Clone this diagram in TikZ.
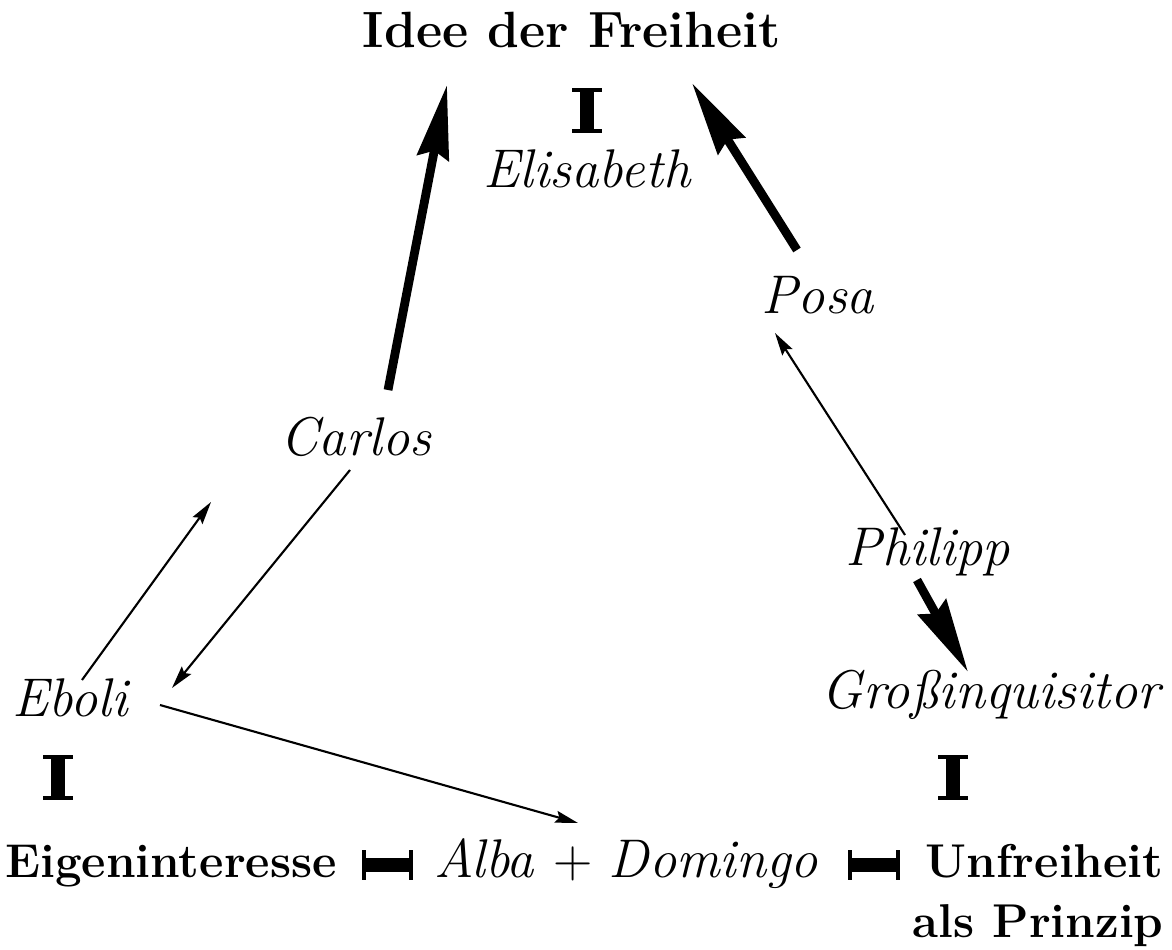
\documentclass[tikz,border=0pt]{standalone}
\usetikzlibrary{arrows.meta}

\begin{document}
\begin{tikzpicture}[
      bf/.style={font=\fontsize{13.5}{16}\selectfont\bfseries},
      it/.style={font=\fontsize{15.5}{18}\selectfont\itshape},
      fat/.style={line width=2.5pt,-{Stealth[length=21pt,width=9pt,inset=2pt]}},
      thin/.style={line width=0.6pt,-{Stealth[length=6.5pt,width=3.4pt,inset=1pt]}},
      gegen/.style={line width=4.2pt,{Bar[width=8.5pt,line width=1pt]}-{Bar[width=8.5pt,line width=1pt]}}
   ]
   \useasboundingbox (0,0) rectangle (11.72,9.49);

   % Knoten
   \node[bf,font=\fontsize{14.5}{17}\selectfont\bfseries] (idee) at (5.72,9.19) {Idee der Freiheit};
   \node[it,anchor=base] (elis) at (5.87,7.61) {Elisabeth};
   \node[it] (posa) at (8.18,6.54) {Posa};
   \node[it] (carlos) at (3.56,5.12) {Carlos};
   \node[it,anchor=base] (philipp) at (9.28,3.84) {Philipp};
   \node[it] (eboli) at (0.70,2.51) {Eboli};
   \node[it,anchor=base] (gross) at (9.91,2.41) {Gro\ss inquisitor};
   \node[bf,anchor=base] (eigen) at (1.71,0.72) {Eigeninteresse};
   \node[it,anchor=base] (alba) at (6.26,0.72) {Alba \upshape + \itshape Domingo};
   \node[bf,anchor=base east] (unfrei) at (11.76,0.72) {Unfreiheit};
   \node[bf,anchor=base east] (prinzip) at (11.76,0.12) {als Prinzip};

   % Pfeile
   \draw[fat] ([shift={(0.32,0.47)}]carlos.center) -- ([shift={(-1.25,-0.55)}]idee.center);
   \draw[fat] ([shift={(-0.21,0.45)}]posa.center) -- ([shift={(1.20,-0.53)}]idee.center);
   \draw[thin] ([shift={(-0.23,0.30)}]philipp.base) -- ([shift={(-0.43,-0.38)}]posa.center);
   \draw[fat] ([shift={(-0.11,-0.15)}]philipp.base) -- ([shift={(-0.23,0.36)}]gross.base);
   \draw[thin] ([shift={(-0.06,-0.33)}]carlos.center) -- ([shift={(1.02,0.10)}]eboli.center);
   \draw[thin] ([shift={(0.12,0.18)}]eboli.center) -- ([shift={(-1.45,-0.65)}]carlos.center);
   \draw[thin] ([shift={(0.90,-0.07)}]eboli.center) -- ([shift={(-0.48,0.54)}]alba.base);

   % Gegensaetze
   \draw[gegen] ([shift={(0.15,-0.58)}]idee.center) -- ([shift={(0,0.55)}]elis.base);
   \draw[gegen] ([shift={(-0.12,-0.57)}]eboli.center) -- ([shift={(-1.13,0.77)}]eigen.base);
   \draw[gegen] ([shift={(-0.38,-0.47)}]gross.base) -- ([shift={(-2.23,0.77)}]unfrei.base east);
   \draw[gegen] ([shift={(1.91,0.12)}]eigen.base) -- ([shift={(-2.13,0.12)}]alba.base);
   \draw[gegen] ([shift={(2.22,0.12)}]alba.base) -- ([shift={(-2.76,0.12)}]unfrei.base east);
\end{tikzpicture}
\end{document}
